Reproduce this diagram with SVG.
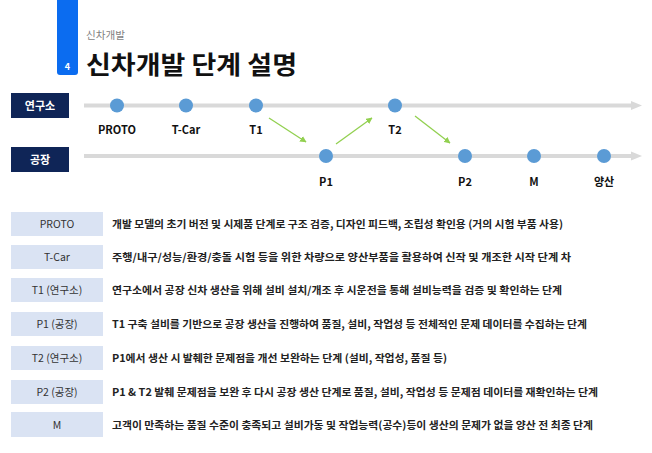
<svg xmlns="http://www.w3.org/2000/svg" width="652" height="453" viewBox="0 0 652 453">
<defs>
<style>
.kr{font-family:"Noto Sans CJK KR","Liberation Sans",sans-serif;}
.lane{fill:#0f2557;}
.lanet{fill:#fff;font-size:11px;font-weight:bold;text-anchor:middle;}
.track{stroke:#d9d9d9;stroke-width:4;fill:none;}
.dot{fill:#5b9bd5;}
.lbl{fill:#111;font-size:11px;font-weight:bold;text-anchor:middle;}
.flow{stroke:#92d050;stroke-width:1.3;fill:none;marker-end:url(#ga);}
.box{fill:#dae3f3;}
.boxt{fill:#333;font-size:10.5px;text-anchor:middle;}
.desc{fill:#222;font-size:10.5px;font-weight:bold;}
</style>
<marker id="ga" viewBox="0 0 10 10" refX="9" refY="5" markerWidth="5" markerHeight="5" orient="auto" markerUnits="strokeWidth"><path d="M0,0 L10,5 L0,10 z" fill="#92d050"/></marker>
</defs>
<rect width="652" height="453" fill="#fff"/>
<g id="header">
<path d="M57,0 H78 V72 Q78,75 75,75 H60 Q57,75 57,72 Z" fill="#0b6cf0"/>
<text x="67.5" y="70" class="kr" font-size="9" font-weight="bold" fill="#fff" text-anchor="middle">4</text>
<text x="86" y="39" class="kr" font-size="10.5" fill="#7f7f7f" textLength="39" lengthAdjust="spacingAndGlyphs">신차개발</text>
<text x="86" y="74" class="kr" font-size="25" font-weight="bold" fill="#111" textLength="211" lengthAdjust="spacingAndGlyphs">신차개발 단계 설명</text>
</g>
<g id="connectors">
<line class="track" x1="84" y1="105.5" x2="632" y2="105.5"/>
<path d="M631,101 L642,105.5 L631,110 Z" fill="#d9d9d9"/>
<line class="track" x1="84" y1="156" x2="632" y2="156"/>
<path d="M631,151.5 L642,156 L631,160.5 Z" fill="#d9d9d9"/>
<line class="flow" x1="269" y1="118" x2="306" y2="142"/>
<line class="flow" x1="336" y1="144" x2="372" y2="118"/>
<line class="flow" x1="415" y1="116" x2="450" y2="143"/>
</g>
<g id="lane-rnd"><rect class="lane" x="11" y="93" width="58" height="25"/><text class="kr lanet" x="40" y="109.5">연구소</text></g>
<g id="lane-plant"><rect class="lane" x="11" y="147" width="58" height="25"/><text class="kr lanet" x="40" y="163.5">공장</text></g>
<g id="n-proto"><circle class="dot" cx="117" cy="105.5" r="7"/><text class="kr lbl" x="117" y="134">PROTO</text></g>
<g id="n-tcar"><circle class="dot" cx="186" cy="105.5" r="7"/><text class="kr lbl" x="186" y="134">T-Car</text></g>
<g id="n-t1"><circle class="dot" cx="256" cy="105.5" r="7"/><text class="kr lbl" x="256" y="134">T1</text></g>
<g id="n-t2"><circle class="dot" cx="395" cy="105.5" r="7"/><text class="kr lbl" x="395" y="134">T2</text></g>
<g id="n-p1"><circle class="dot" cx="326" cy="156" r="7"/><text class="kr lbl" x="326" y="186">P1</text></g>
<g id="n-p2"><circle class="dot" cx="465" cy="156" r="7"/><text class="kr lbl" x="465" y="186">P2</text></g>
<g id="n-m"><circle class="dot" cx="534" cy="156" r="7"/><text class="kr lbl" x="534" y="186">M</text></g>
<g id="n-mass"><circle class="dot" cx="604" cy="156" r="7"/><text class="kr lbl" x="604" y="186">양산</text></g>
<g id="row-proto"><rect class="box" x="11" y="212" width="92" height="24"/><text class="kr boxt" x="57" y="228">PROTO</text><text class="kr desc" x="112" y="228" textLength="451" lengthAdjust="spacingAndGlyphs">개발 모델의 초기 버전 및 시제품 단계로 구조 검증, 디자인 피드백, 조립성 확인용 (거의 시험 부품 사용)</text></g>
<g id="row-tcar"><rect class="box" x="11" y="245" width="92" height="24"/><text class="kr boxt" x="57" y="261">T-Car</text><text class="kr desc" x="112" y="261" textLength="459" lengthAdjust="spacingAndGlyphs">주행/내구/성능/환경/충돌 시험 등을 위한 차량으로 양산부품을 활용하여 신작 및 개조한 시작 단계 차</text></g>
<g id="row-t1"><rect class="box" x="11" y="278" width="92" height="24"/><text class="kr boxt" x="57" y="294">T1 (연구소)</text><text class="kr desc" x="112" y="294" textLength="450" lengthAdjust="spacingAndGlyphs">연구소에서 공장 신차 생산을 위해 설비 설치/개조 후 시운전을 통해 설비능력을 검증 및 확인하는 단계</text></g>
<g id="row-p1"><rect class="box" x="11" y="312" width="92" height="24"/><text class="kr boxt" x="57" y="328">P1 (공장)</text><text class="kr desc" x="112" y="328" textLength="475" lengthAdjust="spacingAndGlyphs">T1 구축 설비를 기반으로 공장 생산을 진행하여 품질, 설비, 작업성 등 전체적인 문제 데이터를 수집하는 단계</text></g>
<g id="row-t2"><rect class="box" x="11" y="346" width="92" height="24"/><text class="kr boxt" x="57" y="362">T2 (연구소)</text><text class="kr desc" x="112" y="362" textLength="335" lengthAdjust="spacingAndGlyphs">P1에서 생산 시 발췌한 문제점을 개선 보완하는 단계 (설비, 작업성, 품질 등)</text></g>
<g id="row-p2"><rect class="box" x="11" y="380" width="92" height="24"/><text class="kr boxt" x="57" y="396">P2 (공장)</text><text class="kr desc" x="112" y="396" textLength="486" lengthAdjust="spacingAndGlyphs">P1 &amp; T2 발췌 문제점을 보완 후 다시 공장 생산 단계로 품질, 설비, 작업성 등 문제점 데이터를 재확인하는 단계</text></g>
<g id="row-m"><rect class="box" x="11" y="412" width="92" height="25"/><text class="kr boxt" x="57" y="428.5">M</text><text class="kr desc" x="112" y="428.5" textLength="481" lengthAdjust="spacingAndGlyphs">고객이 만족하는 품질 수준이 충족되고 설비가동 및 작업능력(공수)등이 생산의 문제가 없을 양산 전 최종 단계</text></g>
</svg>
